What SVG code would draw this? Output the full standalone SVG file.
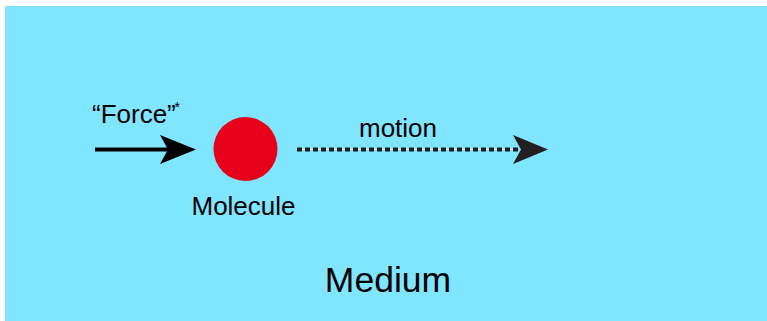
<svg xmlns="http://www.w3.org/2000/svg" width="767" height="321" viewBox="0 0 767 321">
<style>
text{font-family:"Liberation Sans",Arial,sans-serif;fill:#000}
</style>
<rect x="5" y="6" width="762" height="315" fill="#80E5FF"/>
<g id="connectors">
<g id="force-arrow">
<line x1="95" y1="149.5" x2="172" y2="149.5" stroke="#000" stroke-width="4"/>
<path d="M196,149.5 L160,135 L168,149.5 L160,164 Z" fill="#000"/>
</g>
<g id="motion-arrow">
<line x1="297" y1="149.5" x2="518" y2="149.5" stroke="#d8f6ff" stroke-width="1"/>
<line x1="297" y1="149.5" x2="518" y2="149.5" stroke="#231F20" stroke-width="4" stroke-dasharray="5 3"/>
<path d="M548,149.5 L513,135 L521,149.5 L513,164 Z" fill="#231F20"/>
</g>
</g>
<g id="molecule">
<circle cx="245.5" cy="149" r="32" fill="#E60019"/>
<text x="243.5" y="215" font-size="26" text-anchor="middle">Molecule</text>
</g>
<text x="92" y="123" font-size="26">“Force”</text>
<text x="174.5" y="112" font-size="14">*</text>
<text x="398" y="137" font-size="26" text-anchor="middle">motion</text>
<text x="388" y="292" font-size="35.5" text-anchor="middle">Medium</text>
</svg>
